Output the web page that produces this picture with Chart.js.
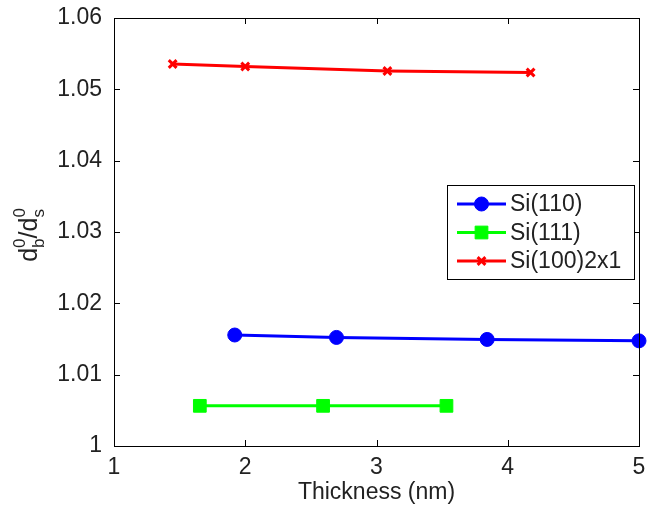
<!DOCTYPE html>
<html>
<head>
<meta charset="utf-8">
<script src="https://cdn.jsdelivr.net/npm/chart.js@4"></script>
<style>
  html, body { margin: 0; padding: 0; background: #fff; }
  canvas { display: block; }
</style>
</head>
<body>
<canvas id="chart" width="649" height="506"></canvas>
<script>
// values
const si110X = [1.92, 2.695, 3.843, 5.0];
const si110Y = [1.01556, 1.01522, 1.01494, 1.01474];
const si111X = [1.654, 2.593, 3.533];
const si111Y = [1.00563, 1.00563, 1.00563];
const si100X = [1.447, 2.0, 3.083, 4.174];
const si100Y = [1.05355, 1.0532, 1.05257, 1.05236];
const xTicks = [1, 2, 3, 4, 5];
const yTicks = [1, 1.01, 1.02, 1.03, 1.04, 1.05, 1.06];

const FONT = "'Liberation Sans', Arial, Helvetica, sans-serif";

function pts(xs, ys) {
  return xs.map((x, i) => ({ x: x, y: ys[i] }));
}

// MATLAB style box + inward ticks on all four sides
const boxPlugin = {
  id: 'box',
  afterDatasetsDraw(chart) {
    const { ctx, chartArea: a, scales } = chart;
    ctx.save();
    ctx.strokeStyle = '#000';
    ctx.lineWidth = 1;
    ctx.strokeRect(a.left + 0.5, a.top + 0.5, a.right - a.left, a.bottom - a.top);
    const len = 6;
    ctx.beginPath();
    xTicks.forEach(v => {
      const px = Math.round(scales.x.getPixelForValue(v)) + 0.5;
      ctx.moveTo(px, a.bottom); ctx.lineTo(px, a.bottom - len);
      ctx.moveTo(px, a.top); ctx.lineTo(px, a.top + len);
    });
    yTicks.forEach(v => {
      const py = Math.round(scales.y.getPixelForValue(v)) + 0.5;
      ctx.moveTo(a.left, py); ctx.lineTo(a.left + len, py);
      ctx.moveTo(a.right, py); ctx.lineTo(a.right - len, py);
    });
    ctx.stroke();
    ctx.restore();
  }
};

// legend box in the right half of the plot
const legendPlugin = {
  id: 'boxLegend',
  afterDraw(chart) {
    const { ctx } = chart;
    const x0 = 447, y0 = 185, w = 187, h = 94;
    ctx.save();
    ctx.fillStyle = '#fff';
    ctx.fillRect(x0, y0, w, h);
    ctx.strokeStyle = '#000';
    ctx.lineWidth = 1;
    ctx.strokeRect(x0 + 0.5, y0 + 0.5, w, h);
    chart.data.datasets.forEach((ds, i) => {
      const cy = y0 + 19 + i * 28.5;
      ctx.strokeStyle = ds.borderColor;
      ctx.lineWidth = ds.borderWidth;
      ctx.beginPath();
      ctx.moveTo(457, cy); ctx.lineTo(506, cy);
      ctx.stroke();
      ctx.fillStyle = ds.pointBackgroundColor;
      ctx.strokeStyle = ds.pointBorderColor;
      ctx.lineWidth = ds.pointBorderWidth;
      Chart.helpers.drawPoint(ctx, {
        pointStyle: ds.pointStyle,
        radius: ds.pointRadius,
        borderWidth: ds.pointBorderWidth
      }, 481.5, cy);
      ctx.fillStyle = '#222';
      ctx.font = '23px ' + FONT;
      ctx.textBaseline = 'middle';
      ctx.textAlign = 'left';
      ctx.fillText(ds.label, 510, cy + 1);
    });
    ctx.restore();
  }
};

// y axis title d^0_b / d^0_s
const yTitlePlugin = {
  id: 'yTitle',
  afterDraw(chart) {
    const { ctx } = chart;
    ctx.save();
    ctx.translate(37, 235);
    ctx.rotate(-Math.PI / 2);
    ctx.fillStyle = '#222';
    ctx.textBaseline = 'alphabetic';
    ctx.textAlign = 'left';
    const big = '25px ' + FONT, small = '17px ' + FONT;
    const parts = [['d', '0', 'b'], ['/d', '0', 's']];
    let total = 0;
    parts.forEach(p => {
      ctx.font = big; total += ctx.measureText(p[0]).width;
      ctx.font = small; total += Math.max(ctx.measureText(p[1]).width, ctx.measureText(p[2]).width);
    });
    let x = -total / 2;
    parts.forEach(p => {
      ctx.font = big;
      ctx.fillText(p[0], x, 0);
      x += ctx.measureText(p[0]).width;
      ctx.font = small;
      ctx.fillText(p[1], x, -12);
      ctx.fillText(p[2], x, 7);
      x += Math.max(ctx.measureText(p[1]).width, ctx.measureText(p[2]).width);
    });
    ctx.restore();
  }
};

new Chart(document.getElementById('chart').getContext('2d'), {
  type: 'line',
  data: {
    datasets: [
      {
        label: 'Si(110)',
        data: pts(si110X, si110Y),
        borderColor: '#0000ff',
        backgroundColor: '#0000ff',
        pointBackgroundColor: '#0000ff',
        pointBorderColor: '#0000ff',
        borderWidth: 3,
        pointStyle: 'circle',
        pointRadius: 7,
        pointBorderWidth: 1
      },
      {
        label: 'Si(111)',
        data: pts(si111X, si111Y),
        borderColor: '#00ff00',
        backgroundColor: '#00ff00',
        pointBackgroundColor: '#00ff00',
        pointBorderColor: '#00ff00',
        borderWidth: 3,
        pointStyle: 'rect',
        pointRadius: 9,
        pointBorderWidth: 1
      },
      {
        label: 'Si(100)2x1',
        data: pts(si100X, si100Y),
        borderColor: '#ff0000',
        backgroundColor: '#ff0000',
        pointBackgroundColor: '#ff0000',
        pointBorderColor: '#ff0000',
        borderWidth: 3,
        pointStyle: 'crossRot',
        pointRadius: 5.5,
        pointBorderWidth: 3
      }
    ]
  },
  options: {
    responsive: false,
    animation: false,
    devicePixelRatio: 1,
    clip: false,
    layout: { padding: { top: 18, right: 7, left: 0, bottom: 0 } },
    plugins: {
      legend: { display: false },
      tooltip: { enabled: false }
    },
    scales: {
      x: {
        type: 'linear',
        min: 1, max: 5,
        afterFit: s => { s.height = 60; s.paddingLeft = 0; s.paddingRight = 0; },
        afterBuildTicks: s => { s.ticks = xTicks.map(v => ({ value: v })); },
        grid: { display: false },
        border: { display: false },
        ticks: { color: '#222', font: { family: FONT, size: 23 }, padding: 0, maxRotation: 0 },
        title: { display: true, text: 'Thickness (nm)', color: '#222', font: { family: FONT, size: 23 }, padding: { top: 0, bottom: 0 } }
      },
      y: {
        type: 'linear',
        min: 1, max: 1.06,
        afterFit: s => { s.width = 114; s.paddingTop = 0; s.paddingBottom = 0; },
        afterBuildTicks: s => { s.ticks = yTicks.map(v => ({ value: v })); },
        grid: { display: false },
        border: { display: false },
        ticks: {
          color: '#222', font: { family: FONT, size: 23 }, padding: 4,
          callback: v => (v === 1 ? '1' : v.toFixed(2))
        }
      }
    }
  },
  plugins: [boxPlugin, legendPlugin, yTitlePlugin]
});
</script>
</body>
</html>
